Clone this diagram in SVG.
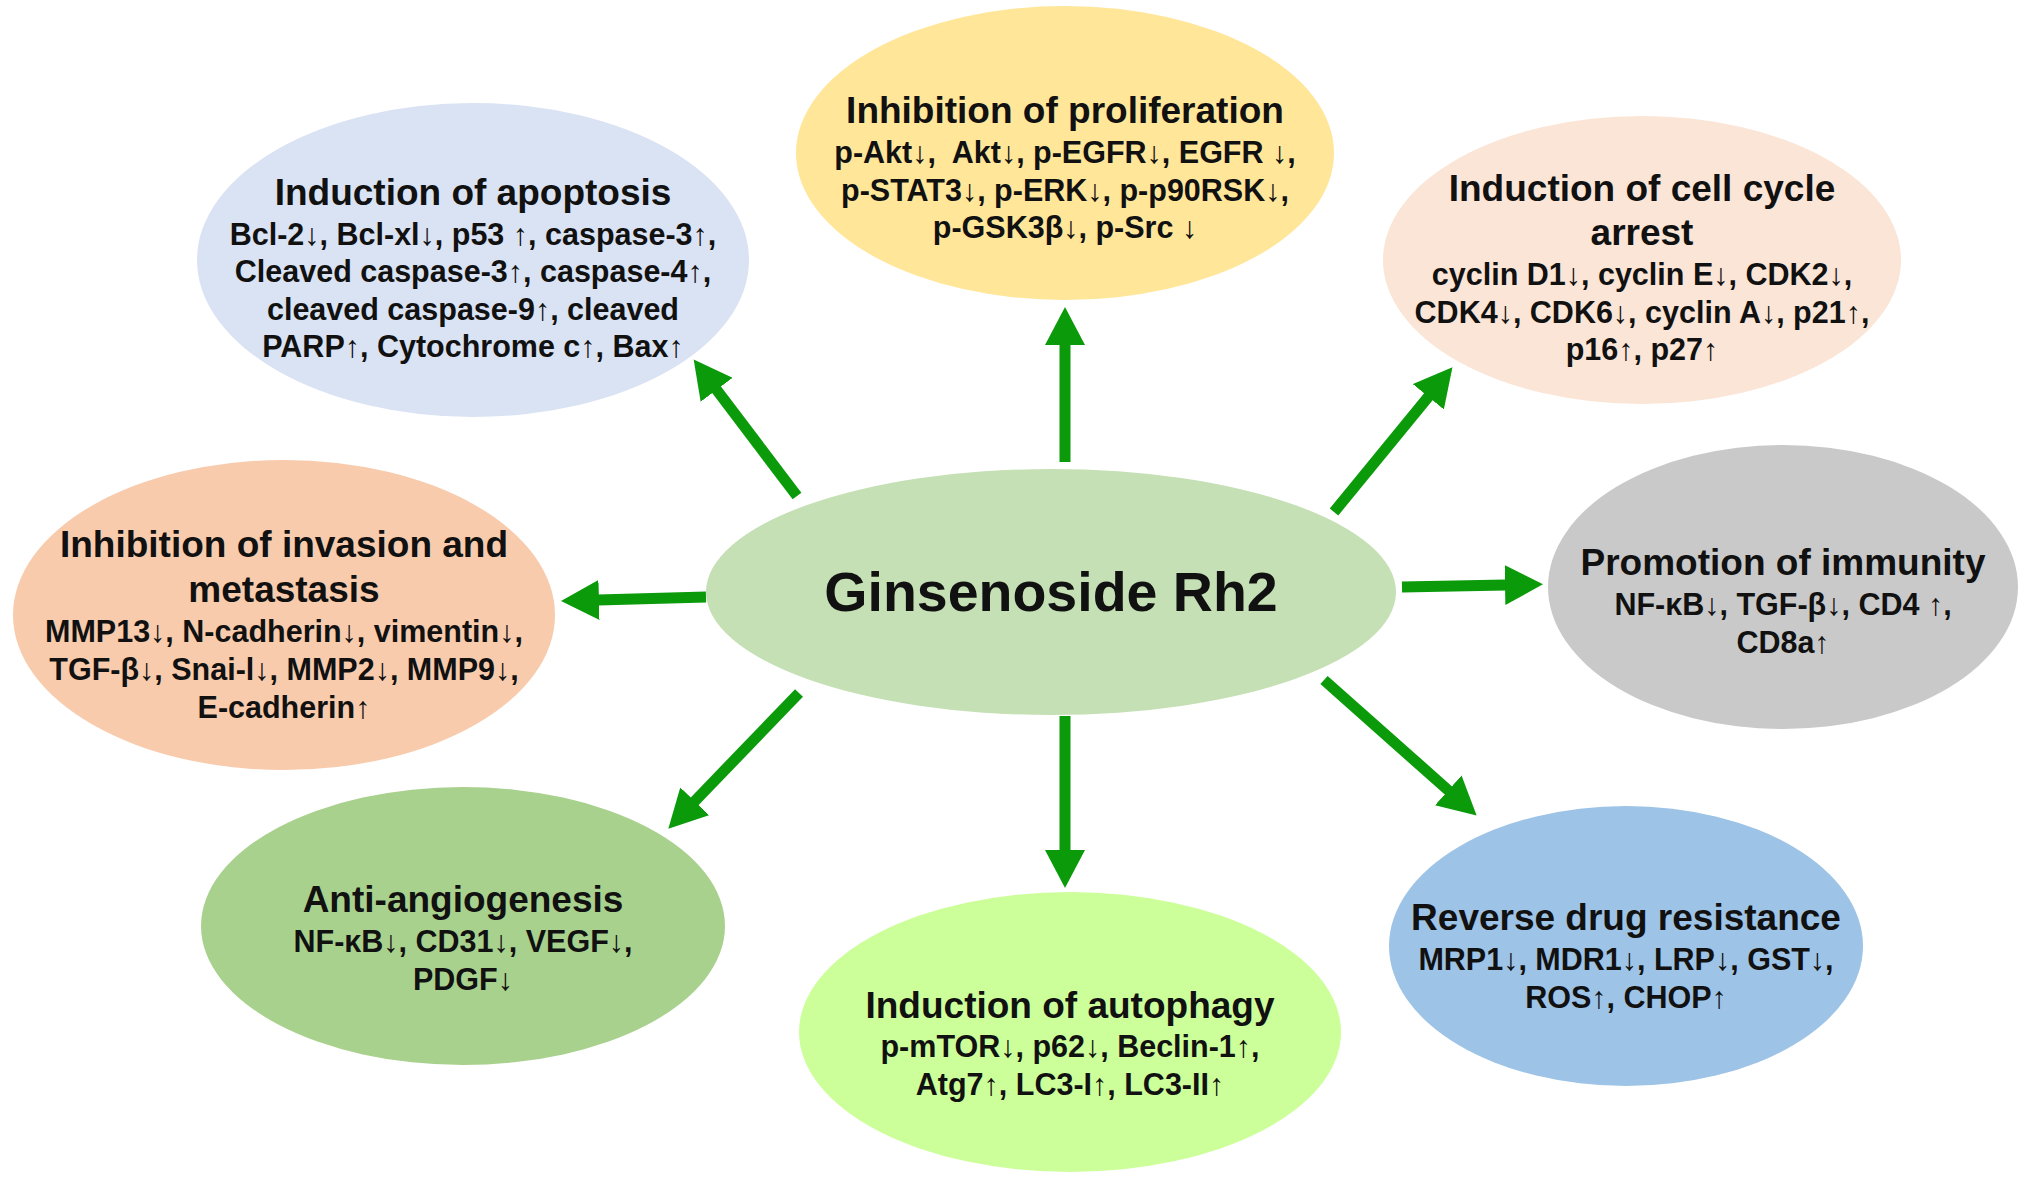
<svg xmlns="http://www.w3.org/2000/svg" width="2031" height="1188" viewBox="0 0 2031 1188">
<style>
text{font-family:"Liberation Sans",Arial,sans-serif;font-weight:bold;fill:#111;text-anchor:middle;white-space:pre}
.t{font-size:37px}
.b{font-size:30.5px}
.c{font-size:55.5px}
.ln{stroke:#0a9a0a;stroke-width:11;fill:none}
</style>
<defs>
<marker id="ah" markerUnits="userSpaceOnUse" markerWidth="40" markerHeight="40" refX="1" refY="20" orient="auto">
<path d="M0,0 L38,20 L0,40 z" fill="#0a9a0a"/>
</marker>
</defs>
<rect width="2031" height="1188" fill="#fff"/>
<g id="connectors">
<line class="ln" x1="797" y1="496" x2="716" y2="389" marker-end="url(#ah)"/>
<line class="ln" x1="1065" y1="462" x2="1065" y2="344" marker-end="url(#ah)"/>
<line class="ln" x1="1334" y1="512" x2="1429" y2="396" marker-end="url(#ah)"/>
<line class="ln" x1="706" y1="597" x2="598" y2="600" marker-end="url(#ah)"/>
<line class="ln" x1="1402" y1="587" x2="1506" y2="585" marker-end="url(#ah)"/>
<line class="ln" x1="799" y1="693" x2="694" y2="802" marker-end="url(#ah)"/>
<line class="ln" x1="1065" y1="716" x2="1065" y2="851" marker-end="url(#ah)"/>
<line class="ln" x1="1324" y1="680" x2="1449" y2="791" marker-end="url(#ah)"/>
</g>
<g id="center">
<ellipse cx="1051" cy="592" rx="345" ry="123" fill="#c5e0b4"/>
<text class="c" x="1051" y="611">Ginsenoside Rh2</text>
</g>
<g id="apoptosis">
<ellipse cx="473" cy="260" rx="276" ry="157" fill="#dae3f3"/>
<text class="t" x="473" y="205">Induction of apoptosis</text>
<text class="b" x="473" y="245">Bcl-2↓, Bcl-xl↓, p53 ↑, caspase-3↑,</text>
<text class="b" x="473" y="282">Cleaved caspase-3↑, caspase-4↑,</text>
<text class="b" x="473" y="320">cleaved caspase-9↑, cleaved</text>
<text class="b" x="473" y="357">PARP↑, Cytochrome c↑, Bax↑</text>
</g>
<g id="proliferation">
<ellipse cx="1065" cy="153" rx="269" ry="147" fill="#ffe699"/>
<text class="t" x="1065" y="123">Inhibition of proliferation</text>
<text class="b" x="1065" y="163">p-Akt↓,  Akt↓, p-EGFR↓, EGFR ↓,</text>
<text class="b" x="1065" y="201">p-STAT3↓, p-ERK↓, p-p90RSK↓,</text>
<text class="b" x="1065" y="238">p-GSK3β↓, p-Src ↓</text>
</g>
<g id="cellcycle">
<ellipse cx="1642" cy="260" rx="259" ry="144" fill="#fbe5d6"/>
<text class="t" x="1642" y="201">Induction of cell cycle</text>
<text class="t" x="1642" y="245">arrest</text>
<text class="b" x="1642" y="285">cyclin D1↓, cyclin E↓, CDK2↓,</text>
<text class="b" x="1642" y="323">CDK4↓, CDK6↓, cyclin A↓, p21↑,</text>
<text class="b" x="1642" y="360">p16↑, p27↑</text>
</g>
<g id="invasion">
<ellipse cx="284" cy="615" rx="271" ry="155" fill="#f8cbad"/>
<text class="t" x="284" y="557">Inhibition of invasion and</text>
<text class="t" x="284" y="602">metastasis</text>
<text class="b" x="284" y="642">MMP13↓, N-cadherin↓, vimentin↓,</text>
<text class="b" x="284" y="680">TGF-β↓, Snai-l↓, MMP2↓, MMP9↓,</text>
<text class="b" x="284" y="718">E-cadherin↑</text>
</g>
<g id="immunity">
<ellipse cx="1783" cy="587" rx="235" ry="142" fill="#c9c9c9"/>
<text class="t" x="1783" y="575">Promotion of immunity</text>
<text class="b" x="1783" y="615">NF-κB↓, TGF-β↓, CD4 ↑,</text>
<text class="b" x="1783" y="653">CD8a↑</text>
</g>
<g id="angiogenesis">
<ellipse cx="463" cy="926" rx="262" ry="139" fill="#a9d18e"/>
<text class="t" x="463" y="912">Anti-angiogenesis</text>
<text class="b" x="463" y="952">NF-κB↓, CD31↓, VEGF↓,</text>
<text class="b" x="463" y="990">PDGF↓</text>
</g>
<g id="autophagy">
<ellipse cx="1070" cy="1032" rx="271" ry="140" fill="#ccff99"/>
<text class="t" x="1070" y="1018">Induction of autophagy</text>
<text class="b" x="1070" y="1057">p-mTOR↓, p62↓, Beclin-1↑,</text>
<text class="b" x="1070" y="1095">Atg7↑, LC3-I↑, LC3-II↑</text>
</g>
<g id="drugresistance">
<ellipse cx="1626" cy="946" rx="237" ry="140" fill="#9dc3e6"/>
<text class="t" x="1626" y="930">Reverse drug resistance</text>
<text class="b" x="1626" y="970">MRP1↓, MDR1↓, LRP↓, GST↓,</text>
<text class="b" x="1626" y="1008">ROS↑, CHOP↑</text>
</g>
</svg>
